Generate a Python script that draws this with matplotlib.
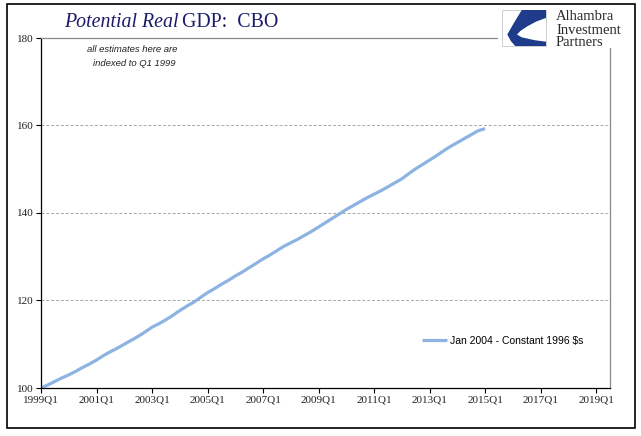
import numpy as np
import matplotlib
matplotlib.use('Agg')
import matplotlib.pyplot as plt
from matplotlib.patches import Rectangle, Polygon

# Data
quarters = [str(y) + 'Q1' for y in range(1999, 2020, 2)]
potential_gdp = [100.0, 100.7, 101.5, 102.3, 103.0, 103.8, 104.7, 105.5,
                 106.4, 107.4, 108.3, 109.1, 110.0, 110.9, 111.8, 112.8,
                 113.9, 114.7, 115.6, 116.6, 117.7, 118.7, 119.6, 120.7,
                 121.8, 122.7, 123.7, 124.6, 125.6, 126.5, 127.5, 128.5,
                 129.5, 130.4, 131.4, 132.4, 133.2, 134.0, 134.9, 135.8,
                 136.8, 137.8, 138.8, 139.8, 140.8, 141.7, 142.6, 143.5,
                 144.3, 145.1, 146.0, 146.9, 147.8, 149.0, 150.1, 151.1,
                 152.1, 153.1, 154.2, 155.2, 156.1, 157.0, 157.9, 158.8,
                 159.3]
series_label = 'Jan 2004 - Constant 1996 \\$s'
y_ticks = [100, 120, 140, 160, 180]

W, H = 641, 436
def fx(px):
    return px / W
def fy(py):
    return 1 - py / H

serif = 'Liberation Serif'
sans = 'Liberation Sans'

fig = plt.figure(figsize=(W / 100, H / 100), dpi=100)
ax = fig.add_axes([fx(41), fy(388), fx(610) - fx(41), fy(38) - fy(388)])

x = np.arange(len(potential_gdp))
ax.plot(x, potential_gdp, color='#8DB3E2', lw=2.3, solid_capstyle='butt', label=series_label)

ax.set_xlim(0, 82)
ax.set_ylim(100, 180)
ax.set_xticks(np.arange(0, 81, 8))
ax.set_xticklabels(quarters, fontfamily=serif, fontsize=8, color='#222222')
ax.set_yticks(y_ticks)
ax.set_yticklabels([str(v) for v in y_ticks], fontfamily=serif, fontsize=8, color='#222222')
ax.tick_params(direction='out', length=3.5, width=0.8, pad=2)

for v in y_ticks[1:-1]:
    ax.axhline(v, color='#A6A6A6', lw=0.7, ls=(0, (3, 2)), zorder=0)

ax.spines['left'].set_color('black')
ax.spines['bottom'].set_color('black')
ax.spines['top'].set_color('#888888')
ax.spines['right'].set_color('#888888')
for s in ax.spines.values():
    s.set_linewidth(0.9)

ax.legend(loc='center left', bbox_to_anchor=(fx(422), fy(341)), bbox_transform=fig.transFigure,
          frameon=False, borderpad=0, borderaxespad=0, handlelength=2.4, handletextpad=0.3,
          prop={'family': sans, 'size': 7.5})

# note inside the plot
fig.text(fx(132), fy(49), 'all estimates here are', ha='center', va='center',
         fontfamily=sans, style='italic', fontsize=6.8, color='#222222')
fig.text(fx(134), fy(63), 'indexed to Q1 1999', ha='center', va='center',
         fontfamily=sans, style='italic', fontsize=6.8, color='#222222')

# title, italic part then upright part
navy = '#1B1B6B'
t1 = fig.text(fx(64), fy(27), 'Potential Real', fontfamily=serif, style='italic',
              fontsize=14.3, color=navy, va='baseline')
fig.canvas.draw()
bb = t1.get_window_extent()
fig.text(bb.x1 / W + fx(4), fy(27), 'GDP:  CBO', fontfamily=serif,
         fontsize=14.3, color=navy, va='baseline')

# logo
fig.patches.append(Rectangle((fx(498), fy(48)), fx(632) - fx(498), fy(5) - fy(48),
                             transform=fig.transFigure, fc='white', ec='none', zorder=5))
ix0, ix1, iy0, iy1 = 502, 546, 10, 46
fig.patches.append(Rectangle((fx(ix0), fy(iy1)), fx(ix1) - fx(ix0), fy(iy0) - fy(iy1),
                             transform=fig.transFigure, fc='white', ec='#C8C8C8', lw=0.6, zorder=6))
pts_uv = [(0.45, 0.0), (1.0, 0.0), (1.0, 0.22), (0.78, 0.32), (0.58, 0.45), (0.42, 0.58),
          (0.34, 0.68), (0.45, 0.76), (0.75, 0.84), (1.0, 0.88), (1.0, 1.0), (0.3, 1.0),
          (0.2, 0.86), (0.12, 0.68), (0.28, 0.34)]
pts = [(fx(ix0 + u * (ix1 - ix0)), fy(iy0 + v * (iy1 - iy0))) for u, v in pts_uv]
fig.patches.append(Polygon(pts, closed=True, transform=fig.transFigure,
                           fc='#1F3C8C', ec='none', zorder=7))
for word, py in [('Alhambra', 17), ('Investment', 30), ('Partners', 43)]:
    fig.text(fx(556), fy(py), word, fontfamily=serif, fontsize=10.5, color='#2A2A2A',
             va='center', ha='left', zorder=8)

# outer frame
fig.patches.append(Rectangle((fx(7), fy(428)), fx(635) - fx(7), fy(4) - fy(428),
                             transform=fig.transFigure, fill=False, ec='black', lw=1.2, zorder=9))

plt.savefig('out.png', dpi=100)
